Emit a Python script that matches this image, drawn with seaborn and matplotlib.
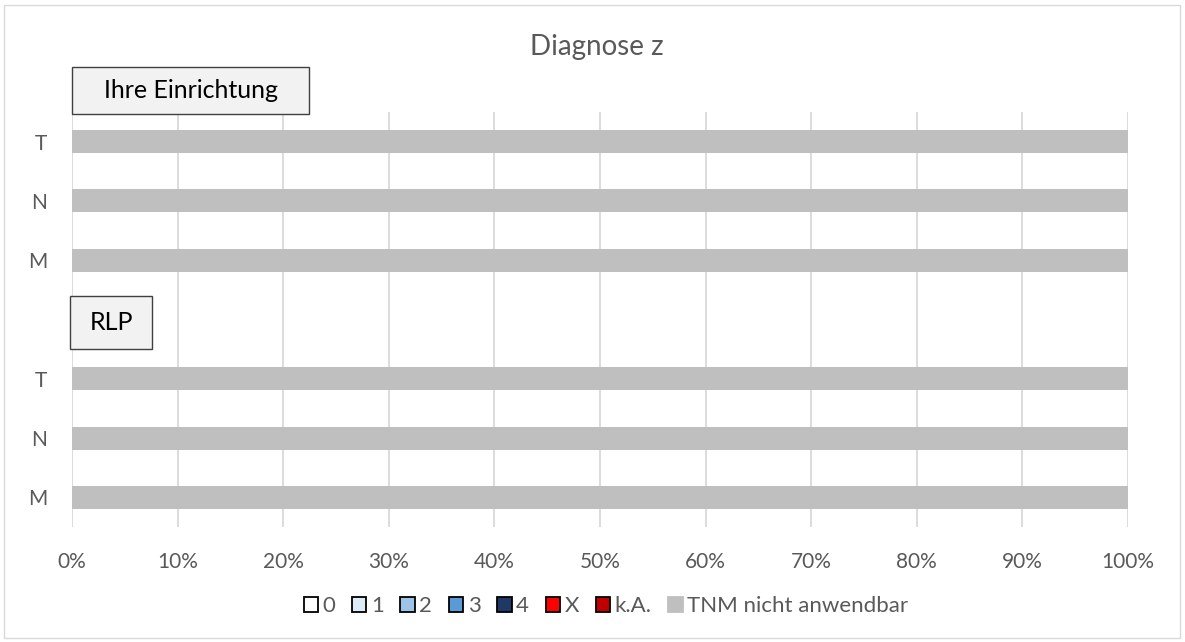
import numpy as np
import pandas as pd
import matplotlib.pyplot as plt
import matplotlib.patches as mpatches
import seaborn as sns

# data
rows = ["T", "N", "M", "", "T", "N", "M"]
row_keys = ["T_e", "N_e", "M_e", "gap", "T_r", "N_r", "M_r"]
stages = ["0", "1", "2", "3", "4", "X", "k.A.", "TNM nicht anwendbar"]
stage_colors = ["#FFFFFF", "#DDEBF7", "#9DC3E6", "#5B9BD5", "#1F3864", "#FF0000", "#C00000", "#BFBFBF"]
# share per stage (percent) for each row, gap row empty
shares = {
    "T_e": [0, 0, 0, 0, 0, 0, 0, 100],
    "N_e": [0, 0, 0, 0, 0, 0, 0, 100],
    "M_e": [0, 0, 0, 0, 0, 0, 0, 100],
    "gap": [0, 0, 0, 0, 0, 0, 0, 0],
    "T_r": [0, 0, 0, 0, 0, 0, 0, 100],
    "N_r": [0, 0, 0, 0, 0, 0, 0, 100],
    "M_r": [0, 0, 0, 0, 0, 0, 0, 100],
}

sns.set_theme(style="white")
plt.rcParams['font.family'] = ['Lato', 'DejaVu Sans']

df = pd.DataFrame(shares, index=stages).T
cum = df.cumsum(axis=1)

fig = plt.figure(figsize=(11.85, 6.42), dpi=100)
ax = fig.add_axes([72/1185, 1-527/642, (1128-72)/1185, (527-112)/642])

# stacked bars: draw cumulative totals from last stage to first
for st, col in reversed(list(zip(stages, stage_colors))):
    d = pd.DataFrame({"key": row_keys, "val": cum.loc[row_keys, st].values})
    sns.barplot(data=d, x="val", y="key", order=row_keys, color=col,
                width=0.39, saturation=1, ax=ax, orient="h", linewidth=0)

ax.set_xlim(0, 100)
ax.set_xticks(np.arange(0, 101, 10))
ax.set_xticklabels([f"{v}%" for v in range(0, 101, 10)], fontsize=15, color="#595959")
ax.set_yticks(range(len(rows)))
ax.set_yticklabels(rows, fontsize=15, color="#595959")
ax.set_xlabel("")
ax.set_ylabel("")
ax.tick_params(axis="x", pad=18, length=0)
ax.tick_params(axis="y", pad=18, length=0)
ax.grid(axis="x", color="#D9D9D9", linewidth=1.3)
ax.set_axisbelow(True)
for s in ax.spines.values():
    s.set_visible(False)

fig.text(597/1185, 1-47/642, "Diagnose z", ha="center", va="center", fontsize=20, color="#595959")

# group label boxes
for (x0, y0, x1, y1, lab) in [(72, 67, 309, 114, "Ihre Einrichtung"), (70, 296, 152, 349, "RLP")]:
    fig.patches.append(mpatches.Rectangle((x0/1185, 1-y1/642), (x1-x0)/1185, (y1-y0)/642,
                                          transform=fig.transFigure, facecolor="#F2F2F2",
                                          edgecolor="#404040", linewidth=1, zorder=5))
    fig.text((x0+x1)/2/1185, 1-(y0+y1)/2/642, lab, ha="center", va="center",
             fontsize=18, color="black", zorder=6)

# legend
handles = []
for st, col in zip(stages, stage_colors):
    ec = "black" if st != "TNM nicht anwendbar" else col
    handles.append(mpatches.Patch(facecolor=col, edgecolor=ec, linewidth=1.3, label=st))
fig.legend(handles=handles, loc="center", bbox_to_anchor=(606/1185, 1-606/642), ncol=8,
           frameon=False, fontsize=16, handlelength=0.65, handleheight=0.65,
           handletextpad=0.2, columnspacing=0.75, labelcolor="#595959")

# outer border
fig.patches.append(mpatches.Rectangle((4/1185, 4/642), 1-9/1185, 1-9/642, transform=fig.transFigure,
                                      facecolor="none", edgecolor="#D9D9D9", linewidth=1))

fig.savefig("out.png", dpi=100)
